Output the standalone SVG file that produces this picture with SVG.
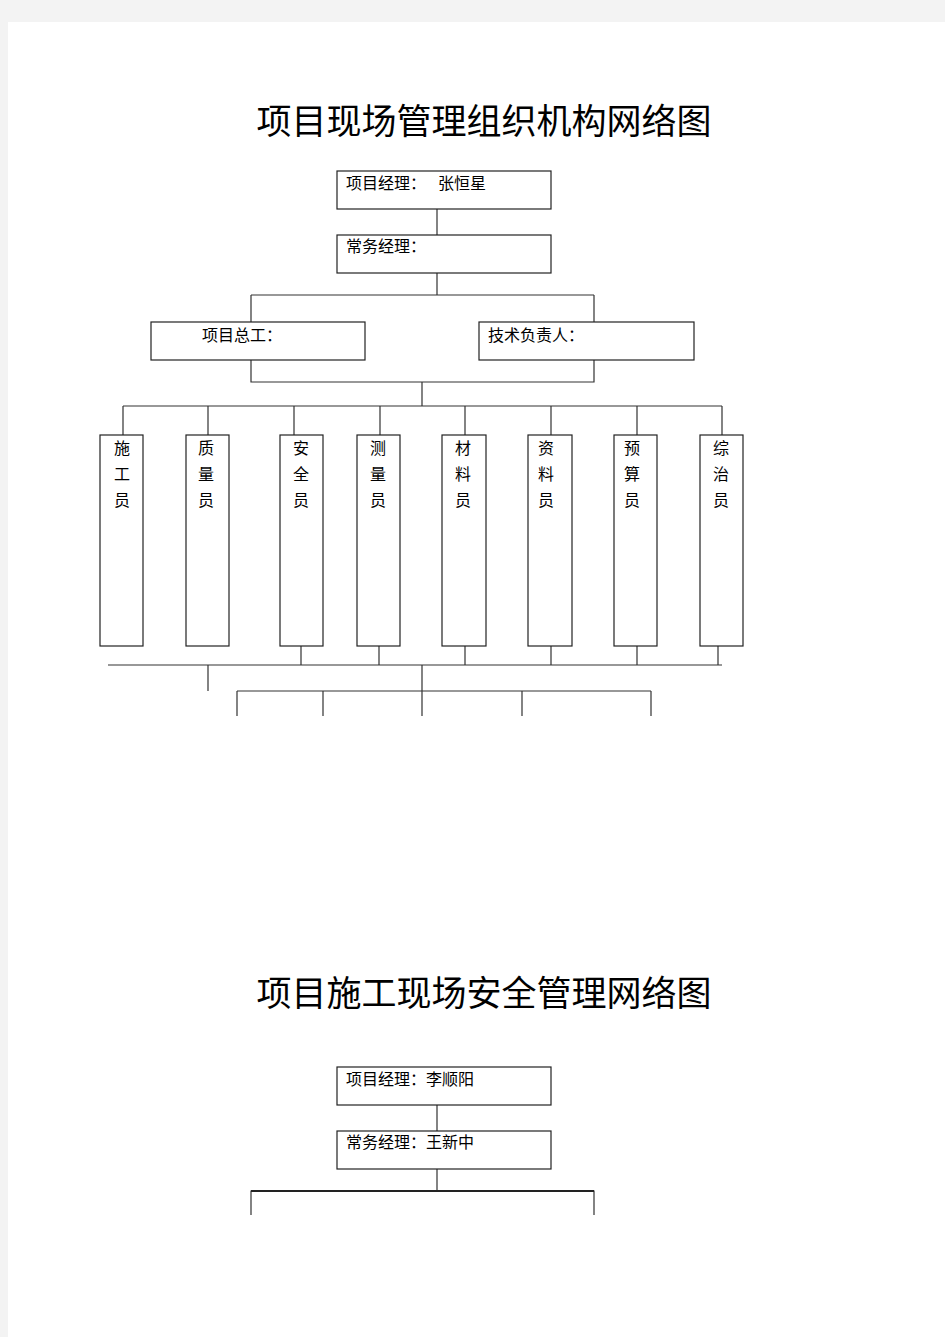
<svg xmlns="http://www.w3.org/2000/svg" width="945" height="1337" viewBox="0 0 945 1337">
<style>
.bg{fill:#f3f3f3}
.page{fill:#fff}
.box{fill:#fff;stroke:#222;stroke-width:1.2}
.ln{fill:none;stroke:#333;stroke-width:1.2}
.lb{font-family:"Noto Sans CJK SC","Noto Sans",sans-serif;font-size:16px;fill:#000}
.vt{font-family:"Noto Sans CJK SC","Noto Sans",sans-serif;font-size:16px;fill:#000;text-anchor:middle}
.tt{font-family:"Noto Sans CJK SC","Noto Sans",sans-serif;font-size:35px;fill:#000;text-anchor:middle}
</style>
<rect class="bg" x="0" y="0" width="945" height="1337"/>
<rect class="page" x="8" y="22" width="937" height="1315"/>

<text class="tt" x="484" y="134">项目现场管理组织机构网络图</text>

<g id="connectors">
<path class="ln" d="M437 209V235 M437 273V295 M251 295H594 M251 295V322 M594 295V322"/>
<path class="ln" d="M251 357V382H594V357 M422 382V406 M123 406H722"/>
<path class="ln" d="M123 406V435 M208 406V435 M294 406V435 M380 406V435 M465 406V435 M551 406V435 M637 406V435 M722 406V435"/>
<path class="ln" d="M301 641V665 M379 641V665 M465 641V665 M551 641V665 M637 641V665 M718 641V665 M108 665H722"/>
<path class="ln" d="M208 665V691 M422 665V716 M237 691H651 M237 691V716 M323 691V716 M522 691V716 M651 691V716"/>
<path class="ln" d="M437 1105V1131 M437 1169V1191 M251 1215V1191H594V1215"/>
<path d="M251 1191H594" stroke="#222" stroke-width="2.2" fill="none"/>
</g>

<g id="n-pm"><rect class="box" x="337" y="171" width="214" height="38"/><text class="lb" x="346" y="189">项目经理：<tspan x="438">张恒星</tspan></text></g>
<g id="n-em"><rect class="box" x="337" y="235" width="214" height="38"/><text class="lb" x="346" y="252">常务经理：</text></g>
<g id="n-ce"><rect class="box" x="151" y="322" width="214" height="38"/><text class="lb" x="202" y="341">项目总工：</text></g>
<g id="n-tl"><rect class="box" x="479" y="322" width="215" height="38"/><text class="lb" x="488" y="341">技术负责人：</text></g>

<g id="n-sg"><rect class="box" x="100" y="435" width="43" height="211"/><text class="vt" x="122" y="454">施</text><text class="vt" x="122" y="480">工</text><text class="vt" x="122" y="506">员</text></g>
<g id="n-zl"><rect class="box" x="186" y="435" width="43" height="211"/><text class="vt" x="206" y="454">质</text><text class="vt" x="206" y="480">量</text><text class="vt" x="206" y="506">员</text></g>
<g id="n-aq"><rect class="box" x="280" y="435" width="43" height="211"/><text class="vt" x="301" y="454">安</text><text class="vt" x="301" y="480">全</text><text class="vt" x="301" y="506">员</text></g>
<g id="n-cl"><rect class="box" x="357" y="435" width="43" height="211"/><text class="vt" x="378" y="454">测</text><text class="vt" x="378" y="480">量</text><text class="vt" x="378" y="506">员</text></g>
<g id="n-cail"><rect class="box" x="442" y="435" width="44" height="211"/><text class="vt" x="463" y="454">材</text><text class="vt" x="463" y="480">料</text><text class="vt" x="463" y="506">员</text></g>
<g id="n-zil"><rect class="box" x="528" y="435" width="44" height="211"/><text class="vt" x="546" y="454">资</text><text class="vt" x="546" y="480">料</text><text class="vt" x="546" y="506">员</text></g>
<g id="n-ys"><rect class="box" x="614" y="435" width="43" height="211"/><text class="vt" x="632" y="454">预</text><text class="vt" x="632" y="480">算</text><text class="vt" x="632" y="506">员</text></g>
<g id="n-zz"><rect class="box" x="700" y="435" width="43" height="211"/><text class="vt" x="721" y="454">综</text><text class="vt" x="721" y="480">治</text><text class="vt" x="721" y="506">员</text></g>

<text class="tt" x="484" y="1006">项目施工现场安全管理网络图</text>

<g id="n-pm2"><rect class="box" x="337" y="1067" width="214" height="38"/><text class="lb" x="346" y="1085">项目经理：李顺阳</text></g>
<g id="n-em2"><rect class="box" x="337" y="1131" width="214" height="38"/><text class="lb" x="346" y="1148">常务经理：王新中</text></g>
</svg>
